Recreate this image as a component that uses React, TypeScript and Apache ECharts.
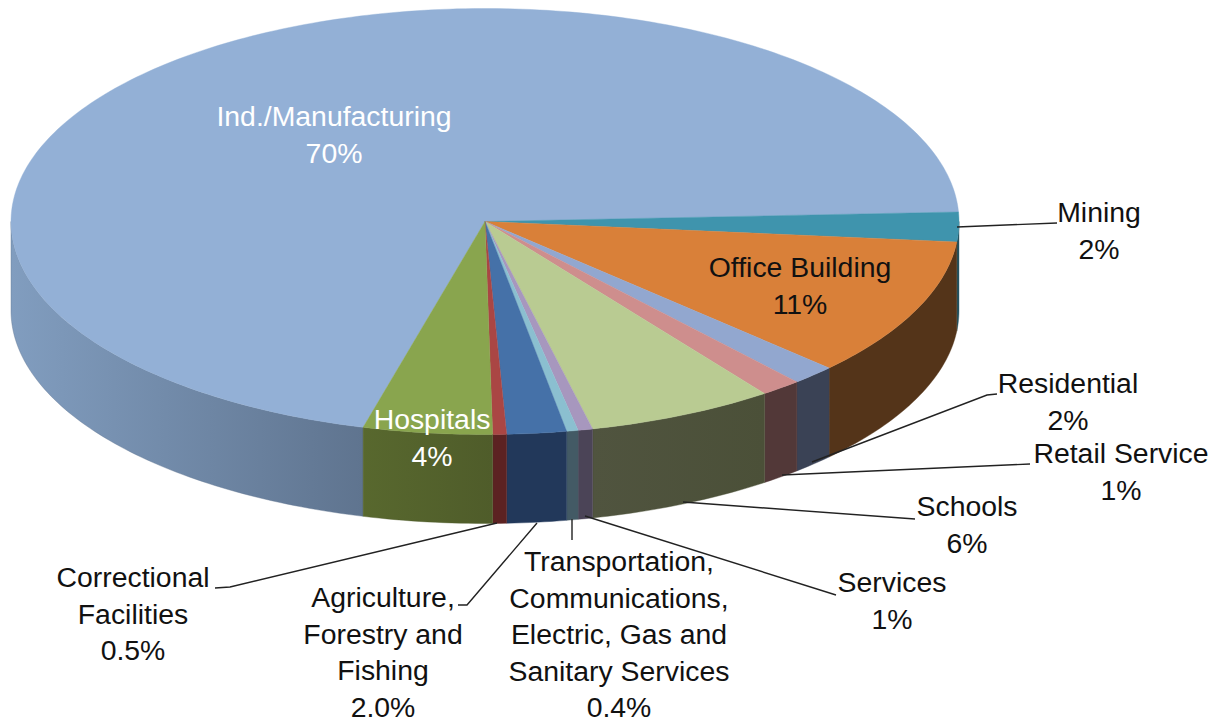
import React, { useEffect, useRef } from "react";
import * as echarts from "echarts";

const categories = [
  "Ind./Manufacturing",
  "Mining",
  "Office Building",
  "Residential",
  "Retail Service",
  "Schools",
  "Services",
  "Transportation,\nCommunications,\nElectric, Gas and\nSanitary Services",
  "Agriculture,\nForestry and\nFishing",
  "Correctional\nFacilities",
  "Hospitals",
];
// Shares as drawn in the picture
const shares = [70.2, 2.24, 10.55, 1.5, 1.39, 6.4, 0.5, 0.39, 2.03, 0.47, 4.4];
// Percentages as printed on the labels
const percentLabels = ["70%", "2%", "11%", "2%", "1%", "6%", "1%", "0.4%", "2.0%", "0.5%", "4%"];
const topColors = ["#93B0D6", "#3F94AD", "#D98039", "#92A7CF", "#CE8E8D", "#B9CB92", "#A797BE", "#8BBFD0", "#4571A8", "#AA4644", "#89A54E"];
const wallColors: [string, string][] = [
  ["#819DBF", "#5F748F"],
  ["#24525F", "#24525F"],
  ["#543419", "#543419"],
  ["#3A4255", "#3A4255"],
  ["#523838", "#523838"],
  ["#50543F", "#4B5038"],
  ["#4B4457", "#4B4457"],
  ["#435A65", "#435A65"],
  ["#22385A", "#22385A"],
  ["#5C2222", "#5C2222"],
  ["#58682E", "#4F5C2A"],
];

// Geometry of the tilted disc
const CX = 485;
const CY = 221.5;
const RX = 474;
const RY = 213;
const DEPTH = 89;
const FIRST_START = 104.9; // Ind./Manufacturing starts here, clockwise on screen

// Label placement: centre x and y of first line
const labelPlaces = [
  { x: 334, y: 116.5, fill: "#FFFFFF" },
  { x: 1099, y: 212.5, fill: "#111111" },
  { x: 800, y: 267.5, fill: "#111111" },
  { x: 1068, y: 383.5, fill: "#111111" },
  { x: 1121, y: 453.5, fill: "#111111" },
  { x: 967, y: 506.5, fill: "#111111" },
  { x: 892, y: 582.5, fill: "#111111" },
  { x: 619, y: 561.5, fill: "#111111" },
  { x: 383, y: 597.5, fill: "#111111" },
  { x: 133, y: 577.5, fill: "#111111" },
  { x: 432, y: 419.5, fill: "#FFFFFF" },
];
const LINE_H = 36.4;

const leaders: number[][][] = [
  [[957, 227], [1057, 223]],
  [[812, 462], [987, 395], [997, 394]],
  [[782, 475], [1030, 464]],
  [[683, 502], [915, 519]],
  [[585, 516], [836, 595]],
  [[572, 519], [572, 540]],
  [[537, 523], [467, 605], [458, 605]],
  [[497, 523], [230, 587], [215, 588]],
];

const total = shares.reduce((a, b) => a + b, 0);
const boundaries: number[] = [];
{
  let acc = FIRST_START;
  for (const s of shares) {
    boundaries.push(acc);
    acc += (s / total) * 360;
  }
  boundaries.push(acc);
}

const pt = (deg: number, dy = 0): number[] => {
  const r = (deg * Math.PI) / 180;
  return [CX + RX * Math.cos(r), CY + RY * Math.sin(r) + dy];
};

const arcPoints = (a: number, b: number, dy = 0): number[][] => {
  const n = Math.max(2, Math.ceil(Math.abs(b - a)));
  const out: number[][] = [];
  for (let i = 0; i <= n; i++) out.push(pt(a + ((b - a) * i) / n, dy));
  return out;
};

// Visible part of the wall: angles 0..180 (mod 360)
const wallRange = (a: number, b: number): [number, number][] => {
  const ranges: [number, number][] = [];
  for (const k of [0, 360]) {
    const lo = Math.max(a, k);
    const hi = Math.min(b, k + 180);
    if (hi > lo) ranges.push([lo, hi]);
  }
  return ranges;
};

const renderItem = (params: any) => {
  const i = params.dataIndex;
  const a = boundaries[i];
  const b = boundaries[i + 1];
  const children: any[] = [];
  for (const [lo, hi] of wallRange(a, b)) {
    const top = arcPoints(lo, hi);
    const bottom = arcPoints(hi, lo, DEPTH);
    const [c0, c1] = wallColors[i];
    const fill = new echarts.graphic.LinearGradient(0, 0, 1, 0, [
      { offset: 0, color: c0 },
      { offset: 1, color: c1 },
    ]);
    children.push({
      type: "polygon",
      shape: { points: top.concat(bottom) },
      style: { fill, stroke: c1, lineWidth: 0.4 },
    });
  }
  children.push({
    type: "polygon",
    shape: { points: [[CX, CY], ...arcPoints(a, b)] },
    style: { fill: topColors[i], stroke: topColors[i], lineWidth: 0.4 },
  });
  return { type: "group", children };
};

export default function App() {
  const ref = useRef<HTMLDivElement>(null);
  useEffect(() => {
    const chart = echarts.init(ref.current!, null, { renderer: "svg" });
    const graphic: any[] = [];
    leaders.forEach((points) => {
      graphic.push({
        type: "polyline",
        z: 5,
        shape: { points },
        style: { stroke: "#222222", lineWidth: 1.4, fill: "none" },
      });
    });
    categories.forEach((name, i) => {
      const p = labelPlaces[i];
      graphic.push({
        type: "text",
        z: 10,
        x: p.x,
        y: p.y - LINE_H / 2,
        style: {
          text: `${name}\n${percentLabels[i]}`,
          fill: p.fill,
          font: '28.4px "Liberation Sans", Arial, sans-serif',
          lineHeight: LINE_H,
          align: "center",
          verticalAlign: "top",
        },
      });
    });
    chart.setOption({
      animation: false,
      backgroundColor: "#FFFFFF",
      series: [
        {
          type: "custom",
          coordinateSystem: "none",
          renderItem,
          data: shares.map((v, i) => ({ name: categories[i], value: [v] })),
          silent: true,
        },
      ],
      graphic,
    });
    return () => chart.dispose();
  }, []);
  return <div ref={ref} style={{ position: "absolute", left: 0, top: 0, width: 1225, height: 723 }} />;
}
